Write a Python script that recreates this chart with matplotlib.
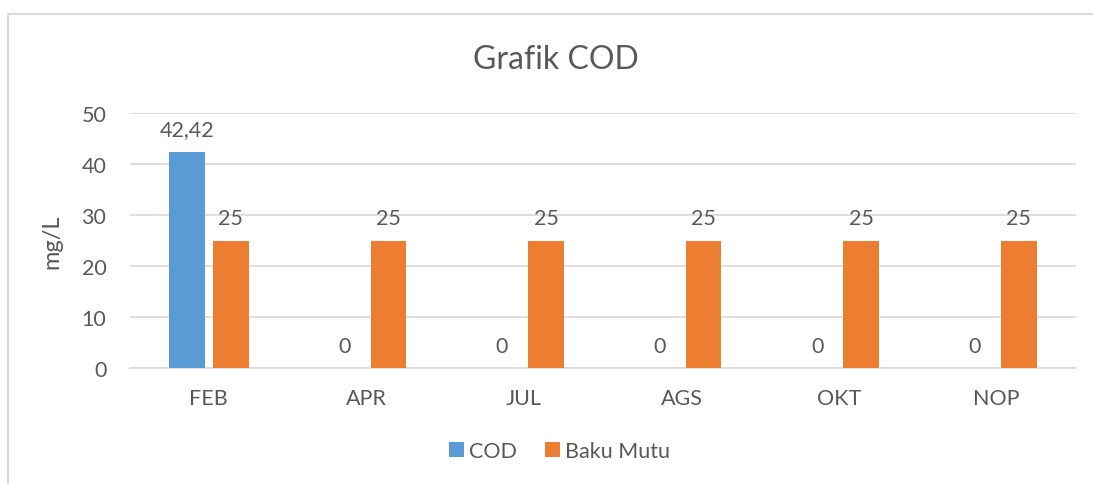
import matplotlib
matplotlib.use('Agg')
from matplotlib import pyplot as plt
from matplotlib.patches import Rectangle
import numpy as np

# data
months = ['FEB', 'APR', 'JUL', 'AGS', 'OKT', 'NOP']
cod = [42.42, 0, 0, 0, 0, 0]
baku_mutu = [25, 25, 25, 25, 25, 25]
y_ticks = [0, 10, 20, 30, 40, 50]

plt.rcParams['font.family'] = ['Lato', 'DejaVu Sans']
text_col = '#595959'
grid_col = '#d9d9d9'

fig = plt.figure(figsize=(10.93, 4.85), dpi=100)
ax = fig.add_axes([0.119, 0.239, 0.865, 0.526])

# chart area border (only left and top visible in the crop)
fig.patches.append(Rectangle((8 / 1093, -0.5), 2, 0.5 + 1 - 15 / 485,
                             transform=fig.transFigure, fill=False,
                             edgecolor=grid_col, linewidth=1.5))

x = np.arange(len(months))
w = 0.225
off = 0.14
b1 = ax.bar(x - off, cod, w, color='#5B9BD5', label='COD', zorder=3)
b2 = ax.bar(x + off, baku_mutu, w, color='#ED7D31', label='Baku Mutu', zorder=3)

def fmt(v):
    s = ('%g' % v).replace('.', ',')
    return s

for bars, vals in ((b1, cod), (b2, baku_mutu)):
    for rect, v in zip(bars, vals):
        ax.annotate(fmt(v), (rect.get_x() + rect.get_width() / 2, v),
                    xytext=(0, 9), textcoords='offset points',
                    ha='center', va='bottom', fontsize=15.5, color=text_col)

ax.set_xlim(-0.5, len(months) - 0.5)
ax.set_ylim(0, 50)
ax.set_yticks(y_ticks)
ax.set_xticks(x)
ax.set_xticklabels(months)
ax.tick_params(axis='both', length=0, labelsize=15.5, colors=text_col)
ax.tick_params(axis='y', pad=17)
ax.tick_params(axis='x', pad=14)
ax.yaxis.grid(True, color=grid_col, linewidth=1.2, zorder=0)
for s in ['top', 'right', 'left']:
    ax.spines[s].set_visible(False)
ax.spines['bottom'].set_color(grid_col)
ax.spines['bottom'].set_linewidth(1.2)

ax.set_ylabel('mg/L', fontsize=17, color=text_col, labelpad=14)
fig.text(0.509, 0.877, 'Grafik COD', ha='center', va='center',
         fontsize=23, color=text_col)

leg = fig.legend(loc='center', bbox_to_anchor=(0.512, 0.068), ncol=2,
                 frameon=False, fontsize=15.5, handlelength=0.7,
                 handleheight=0.7, handletextpad=0.25, columnspacing=1.3)
for t in leg.get_texts():
    t.set_color(text_col)

fig.savefig('out.png', dpi=100)
